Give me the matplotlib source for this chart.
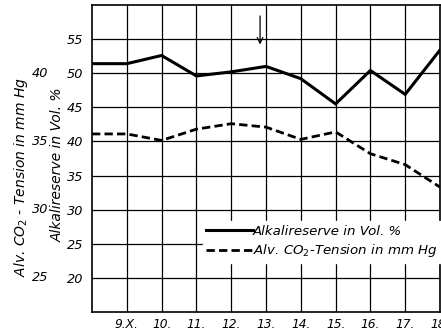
import matplotlib
matplotlib.use("Agg")
import matplotlib.pyplot as plt

days = [8, 9, 10, 11, 12, 13, 14, 15, 16, 17, 18]
day_labels = ["9.X.", "10.", "11.", "12.", "13.", "14.", "15.", "16.", "17.", "18."]
alkali = [51.4, 51.4, 52.6, 49.6, 50.2, 51.0, 49.2, 45.5, 50.4, 46.9, 53.4]
co2_on_vol_scale = [41.1, 41.1, 40.15, 41.8, 42.6, 42.1, 40.3, 41.4, 38.2, 36.6, 33.3]
vol_ticks = [20, 25, 30, 35, 40, 45, 50, 55]
co2_ticks = [25, 30, 35, 40]

FONT = dict(family="DejaVu Sans", style="italic")

fig = plt.figure(figsize=(4.41, 3.33), dpi=100)
ax = fig.add_axes([92/441, 1-312/333, 348/441, 307/333])

ax.plot(days, alkali, color="black", lw=2.2, solid_joinstyle="miter",
        label="Alkalireserve in Vol. %", zorder=3)
ax.plot(days, co2_on_vol_scale, color="black", lw=2.0, ls=(0, (3, 1.5)),
        label="Alv. CO$_2$-Tension in mm Hg", zorder=3)

ax.set_xlim(8, 18)
ax.set_ylim(15, 60)
ax.set_xticks(days[1:])
ax.set_xticklabels(day_labels, fontsize=8.8, **FONT)
ax.set_yticks(vol_ticks)
ax.set_yticklabels([str(v) for v in vol_ticks], fontsize=9.3, **FONT)
ax.tick_params(length=0, pad=6)
ax.tick_params(axis="x", pad=4)
ax.grid(True, color="black", lw=0.9)
for s in ax.spines.values():
    s.set_linewidth(1.2)

# secondary scale for CO2 tension (Vol = 2*CO2 - 30)
for c in co2_ticks:
    ax.text(-0.15, 2*c - 30, str(c), transform=ax.get_yaxis_transform(),
            ha="center", va="center", fontsize=9.3, **FONT)

ax.text(-0.098, 0.48, "Alkalireserve in Vol. %", transform=ax.transAxes,
        rotation=90, ha="center", va="center", fontsize=10, **FONT)
ax.text(-0.205, 0.44, "Alv. CO$_2$ - Tension in mm Hg", transform=ax.transAxes,
        rotation=90, ha="center", va="center", fontsize=10, **FONT)

ax.annotate("", xy=(12.83, 53.8), xytext=(12.83, 58.8),
            arrowprops=dict(arrowstyle="->", lw=0.9, color="black"))

leg = ax.legend(loc="center left", bbox_to_anchor=(0.318, 0.228), frameon=True,
                fancybox=False, edgecolor="white", framealpha=1,
                handlelength=3.5, handletextpad=0.0, borderpad=0.25,
                borderaxespad=0, labelspacing=0.35, prop=dict(size=9.6, **FONT))
leg.set_zorder(5)

fig.savefig("out.png", dpi=100)
